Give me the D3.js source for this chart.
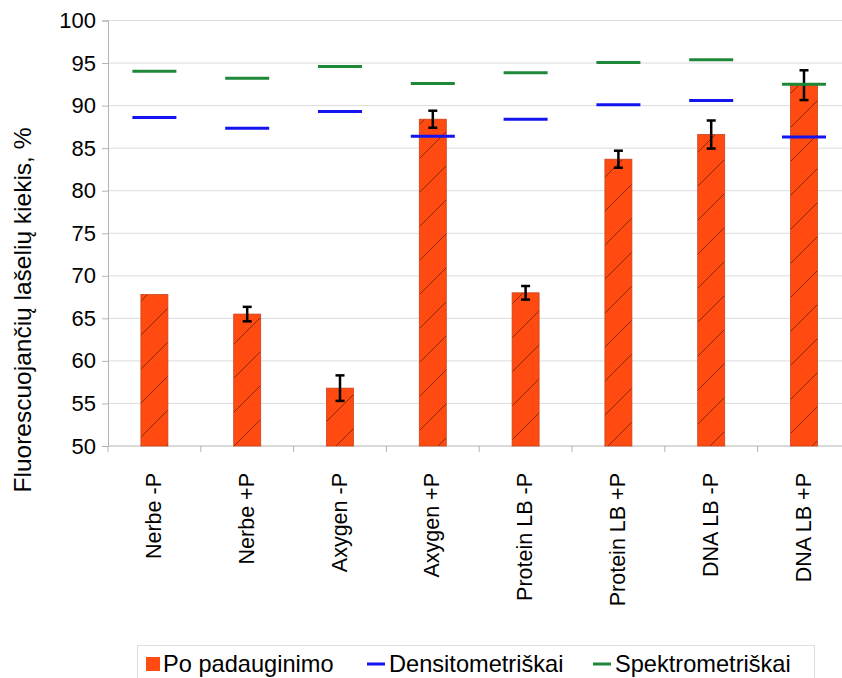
<!DOCTYPE html>
<html>
<head>
<meta charset="utf-8">
<script src="https://cdn.jsdelivr.net/npm/d3@7"></script>
<style>
  body { margin: 0; background: #fff; }
  svg text { font-family: "Liberation Sans", Arial, sans-serif; fill: #000; }
</style>
</head>
<body>
<div id="chart"></div>
<script>
// categories and values
const categories = ["Nerbe -P", "Nerbe +P", "Axygen -P", "Axygen +P",
                    "Protein LB -P", "Protein LB +P", "DNA LB -P", "DNA LB +P"];
const poPadauginimo = [67.8, 65.5, 56.8, 88.4, 68.0, 83.7, 86.6, 92.4];
const paklaida = [0, 0.85, 1.5, 1.0, 0.8, 1.0, 1.65, 1.75];
const densitometriskai = [88.6, 87.35, 89.3, 86.4, 88.4, 90.1, 90.6, 86.3];
const spektrometriskai = [94.05, 93.2, 94.6, 92.6, 93.85, 95.05, 95.4, 92.5];
const yTicks = [50, 55, 60, 65, 70, 75, 80, 85, 90, 95, 100];

const width = 842, height = 678;
const plotLeft = 108, plotTop = 20.5, plotBottom = 446, band = 92.8;

const svg = d3.select('#chart').append('svg')
    .attr('width', width)
    .attr('height', height);

// hatch pattern for the bars
const defs = svg.append('defs');
const pat = defs.append('pattern')
    .attr('id', 'hatch')
    .attr('patternUnits', 'userSpaceOnUse')
    .attr('width', 34).attr('height', 34);
pat.append('rect').attr('width', 34).attr('height', 34).attr('fill', '#ff4a12');
pat.append('path')
    .attr('d', 'M0,34 L34,0 M-4,4 L4,-4 M30,38 L38,30')
    .attr('stroke', '#8a2a08').attr('stroke-width', 1);

const x = d3.scaleBand(categories, [plotLeft, plotLeft + band * categories.length]);
const y = d3.scaleLinear([50, 100], [plotBottom, plotTop]);

// grid
svg.append('g')
    .selectAll('line')
    .data(yTicks.slice(1))
    .join('line')
    .attr('x1', plotLeft).attr('x2', width)
    .attr('y1', d => y(d)).attr('y2', d => y(d))
    .attr('stroke', '#dcdcdc').attr('stroke-width', 1);

// y axis
const axisY = svg.append('g')
    .attr('transform', `translate(${plotLeft},0)`)
    .call(d3.axisLeft(y).tickValues(yTicks).tickSize(6).tickPadding(6));
axisY.select('.domain').attr('stroke', '#b3b3b3');
axisY.selectAll('.tick line').attr('stroke', '#b3b3b3');
axisY.selectAll('.tick text')
    .style('font-size', '22px')
    .style('font-family', '"Liberation Sans", Arial, sans-serif');

// x axis: ticks on band boundaries
svg.append('line')
    .attr('x1', plotLeft).attr('x2', width)
    .attr('y1', plotBottom).attr('y2', plotBottom)
    .attr('stroke', '#b3b3b3');
svg.append('g')
    .selectAll('line')
    .data(categories)
    .join('line')
    .attr('x1', d => x(d)).attr('x2', d => x(d))
    .attr('y1', plotBottom).attr('y2', plotBottom + 6)
    .attr('stroke', '#b3b3b3');

svg.append('g')
    .selectAll('text')
    .data(categories)
    .join('text')
    .attr('transform', d => `translate(${x(d) + x.bandwidth() / 2 - 1},473)rotate(-90)`)
    .attr('dy', '0.35em')
    .style('text-anchor', 'end')
    .style('font-size', '21.5px')
    .text(d => d);

// bars
const barW = 27;
svg.append('g')
    .selectAll('rect')
    .data(poPadauginimo)
    .join('rect')
    .attr('x', (d, i) => x(categories[i]) + x.bandwidth() / 2 - barW / 2)
    .attr('y', d => y(d))
    .attr('width', barW)
    .attr('height', d => plotBottom - y(d))
    .attr('fill', 'url(#hatch)')
    .attr('stroke', '#c8431a').attr('stroke-width', 0.8);

// error bars
const errG = svg.append('g')
    .selectAll('g')
    .data(poPadauginimo.map((v, i) => [v, paklaida[i], categories[i]]).filter(d => d[1] > 0))
    .join('g')
    .attr('stroke', '#000').attr('stroke-width', 2.5);
errG.append('line')
    .attr('x1', d => x(d[2]) + x.bandwidth() / 2).attr('x2', d => x(d[2]) + x.bandwidth() / 2)
    .attr('y1', d => y(d[0] + d[1])).attr('y2', d => y(d[0] - d[1]));
errG.append('line')
    .attr('x1', d => x(d[2]) + x.bandwidth() / 2 - 4.5).attr('x2', d => x(d[2]) + x.bandwidth() / 2 + 4.5)
    .attr('y1', d => y(d[0] + d[1])).attr('y2', d => y(d[0] + d[1]));
errG.append('line')
    .attr('x1', d => x(d[2]) + x.bandwidth() / 2 - 4.5).attr('x2', d => x(d[2]) + x.bandwidth() / 2 + 4.5)
    .attr('y1', d => y(d[0] - d[1])).attr('y2', d => y(d[0] - d[1]));

// dash markers for the two measurement series
const dashW = 44;
function dashes(values, color){
    svg.append('g')
        .selectAll('line')
        .data(values)
        .join('line')
        .attr('x1', (d, i) => x(categories[i]) + x.bandwidth() / 2 - dashW / 2)
        .attr('x2', (d, i) => x(categories[i]) + x.bandwidth() / 2 + dashW / 2)
        .attr('y1', d => y(d)).attr('y2', d => y(d))
        .attr('stroke', color).attr('stroke-width', 3);
}
dashes(densitometriskai, '#1414f0');
dashes(spektrometriskai, '#1e8738');

// y axis title
svg.append('text')
    .attr('transform', 'translate(31,310)rotate(-90)')
    .style('text-anchor', 'middle')
    .style('font-size', '24.5px')
    .text('Fluorescuojančių lašelių kiekis, %');

// legend
const legend = svg.append('g');
legend.append('rect')
    .attr('x', 137.5).attr('y', 645.5)
    .attr('width', 677).attr('height', 45)
    .attr('fill', '#fff').attr('stroke', '#dedede');
legend.append('rect')
    .attr('x', 146).attr('y', 657).attr('width', 14).attr('height', 14)
    .attr('fill', '#ff4a12');
legend.append('text').attr('x', 163).attr('y', 672).style('font-size', '23.6px').text('Po padauginimo');
legend.append('line')
    .attr('x1', 367).attr('x2', 385).attr('y1', 664).attr('y2', 664)
    .attr('stroke', '#1414f0').attr('stroke-width', 3);
legend.append('text').attr('x', 389).attr('y', 672).style('font-size', '23.6px').text('Densitometriškai');
legend.append('line')
    .attr('x1', 593).attr('x2', 611).attr('y1', 664).attr('y2', 664)
    .attr('stroke', '#1e8738').attr('stroke-width', 3);
legend.append('text').attr('x', 615).attr('y', 672).style('font-size', '23.6px').text('Spektrometriškai');
</script>
</body>
</html>
